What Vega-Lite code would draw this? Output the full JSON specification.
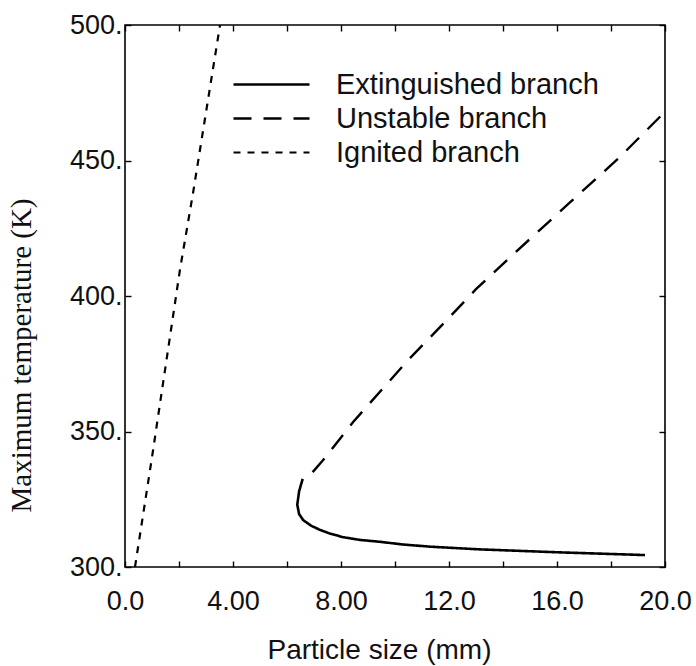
{
  "$schema": "https://vega.github.io/schema/vega-lite/v6.json",
  "autosize": {"type": "none"},
  "padding": {"left": 125, "top": 25, "right": 31, "bottom": 99},
  "width": 540,
  "height": 542,
  "background": "white",
  "config": {
    "view": {"stroke": "black", "strokeWidth": 1.6},
    "font": "Liberation Sans",
    "axis": {"domain": false, "grid": false, "tickColor": "black", "tickWidth": 1.4, "labelColor": "#111", "titleColor": "#111", "labelFont": "Liberation Sans", "titleFontWeight": "normal"}
  },
  "data": {
    "values": [
      {"branch": "Extinguished branch", "i": 1, "size": 6.58, "temp": 332.5},
      {"branch": "Extinguished branch", "i": 2, "size": 6.45, "temp": 328},
      {"branch": "Extinguished branch", "i": 3, "size": 6.38, "temp": 323},
      {"branch": "Extinguished branch", "i": 4, "size": 6.45, "temp": 319.5},
      {"branch": "Extinguished branch", "i": 5, "size": 6.6, "temp": 317.3},
      {"branch": "Extinguished branch", "i": 6, "size": 6.9, "temp": 315.2},
      {"branch": "Extinguished branch", "i": 7, "size": 7.22, "temp": 313.7},
      {"branch": "Extinguished branch", "i": 8, "size": 7.6, "temp": 312.3},
      {"branch": "Extinguished branch", "i": 9, "size": 8.08, "temp": 311},
      {"branch": "Extinguished branch", "i": 10, "size": 8.7, "temp": 310},
      {"branch": "Extinguished branch", "i": 11, "size": 9.44, "temp": 309.3},
      {"branch": "Extinguished branch", "i": 12, "size": 10.3, "temp": 308.3},
      {"branch": "Extinguished branch", "i": 13, "size": 11.3, "temp": 307.5},
      {"branch": "Extinguished branch", "i": 14, "size": 12.4, "temp": 306.9},
      {"branch": "Extinguished branch", "i": 15, "size": 13.15, "temp": 306.5},
      {"branch": "Extinguished branch", "i": 16, "size": 14.5, "temp": 306},
      {"branch": "Extinguished branch", "i": 17, "size": 16.1, "temp": 305.4},
      {"branch": "Extinguished branch", "i": 18, "size": 17.7, "temp": 304.9},
      {"branch": "Extinguished branch", "i": 19, "size": 19.26, "temp": 304.4},
      {"branch": "Unstable branch", "i": 1, "size": 6.95, "temp": 335},
      {"branch": "Unstable branch", "i": 2, "size": 7.3, "temp": 339},
      {"branch": "Unstable branch", "i": 3, "size": 7.7, "temp": 344},
      {"branch": "Unstable branch", "i": 4, "size": 8.45, "temp": 353.5},
      {"branch": "Unstable branch", "i": 5, "size": 9.5, "temp": 365.3},
      {"branch": "Unstable branch", "i": 6, "size": 10.5, "temp": 376.5},
      {"branch": "Unstable branch", "i": 7, "size": 11.85, "temp": 390.4},
      {"branch": "Unstable branch", "i": 8, "size": 13.0, "temp": 402.5},
      {"branch": "Unstable branch", "i": 9, "size": 14.5, "temp": 416.5},
      {"branch": "Unstable branch", "i": 10, "size": 16.5, "temp": 434.7},
      {"branch": "Unstable branch", "i": 11, "size": 18.3, "temp": 451},
      {"branch": "Unstable branch", "i": 12, "size": 20.0, "temp": 468},
      {"branch": "Ignited branch", "i": 1, "size": 0.37, "temp": 300},
      {"branch": "Ignited branch", "i": 2, "size": 1.0, "temp": 340.5},
      {"branch": "Ignited branch", "i": 3, "size": 2.04, "temp": 410},
      {"branch": "Ignited branch", "i": 4, "size": 2.52, "temp": 438},
      {"branch": "Ignited branch", "i": 5, "size": 3.52, "temp": 500}
    ]
  },
  "layer": [
    {
      "mark": {"type": "line", "color": "black", "clip": true},
      "encoding": {
        "x": {
          "field": "size", "type": "quantitative",
          "scale": {"domain": [0, 20], "nice": false, "zero": false},
          "axis": {
            "orient": "bottom",
            "title": "Particle size (mm)",
            "titleFontSize": 28,
            "titlePadding": 22,
            "titleFont": "Liberation Sans",
            "titleX": 254,
            "values": [0, 2, 4, 6, 8, 10, 12, 14, 16, 18, 20],
            "labelExpr": "datum.value % 4 != 0 ? '' : (datum.value == 0 ? '0.0' : (datum.value < 10 ? format(datum.value, '.2f') : format(datum.value, '.1f')))",
            "labelFontSize": 27,
            "labelPadding": 27,
            "tickSize": -6,
            "labelFlush": false,
            "labelOverlap": false
          }
        },
        "y": {
          "field": "temp", "type": "quantitative",
          "scale": {"domain": [300, 500], "nice": false, "zero": false},
          "axis": {
            "orient": "left",
            "title": "Maximum temperature (K)",
            "titleFont": "Liberation Serif",
            "titleFontSize": 29,
            "titlePadding": 33,
            "titleY": 330,
            "values": [300, 350, 400, 450, 500],
            "labelExpr": "datum.value + '.'",
            "labelFontSize": 27,
            "labelPadding": 9,
            "tickSize": -6,
            "labelFlush": false,
            "labelOverlap": false
          }
        },
        "order": {"field": "i", "type": "quantitative"},
        "strokeDash": {
          "field": "branch", "type": "nominal",
          "scale": {"domain": ["Extinguished branch", "Unstable branch", "Ignited branch"], "range": [[1, 0], [18, 12], [7, 7]]},
          "legend": {
            "title": null,
            "orient": "none",
            "legendX": 130,
            "legendY": 43,
            "symbolType": "M-2.5,0H2.5",
            "symbolSize": 924,
            "symbolStrokeColor": "black",
            "labelFontSize": 29,
            "labelFont": "Liberation Sans",
            "labelColor": "#111",
            "labelLimit": 400,
            "labelOffset": 48,
            "rowPadding": 2
          }
        },
        "strokeWidth": {
          "field": "branch", "type": "nominal",
          "scale": {"domain": ["Extinguished branch", "Unstable branch", "Ignited branch"], "range": [2.6, 2.2, 1.4]},
          "legend": {
            "title": null,
            "orient": "none",
            "legendX": 130,
            "legendY": 43,
            "symbolType": "M-2.5,0H2.5",
            "symbolSize": 924,
            "symbolStrokeColor": "black",
            "labelFontSize": 29,
            "labelFont": "Liberation Sans",
            "labelColor": "#111",
            "labelLimit": 400,
            "labelOffset": 48,
            "rowPadding": 2
          }
        }
      }
    },
    {
      "mark": {"type": "point", "opacity": 0},
      "encoding": {
        "x": {
          "field": "size", "type": "quantitative",
          "axis": {"orient": "top", "title": null, "labels": false, "values": [0, 2, 4, 6, 8, 10, 12, 14, 16, 18, 20], "tickSize": -6}
        },
        "y": {
          "field": "temp", "type": "quantitative",
          "axis": {"orient": "right", "title": null, "labels": false, "values": [300, 350, 400, 450, 500], "tickSize": -6}
        }
      }
    }
  ],
  "resolve": {"axis": {"x": "independent", "y": "independent"}}
}
